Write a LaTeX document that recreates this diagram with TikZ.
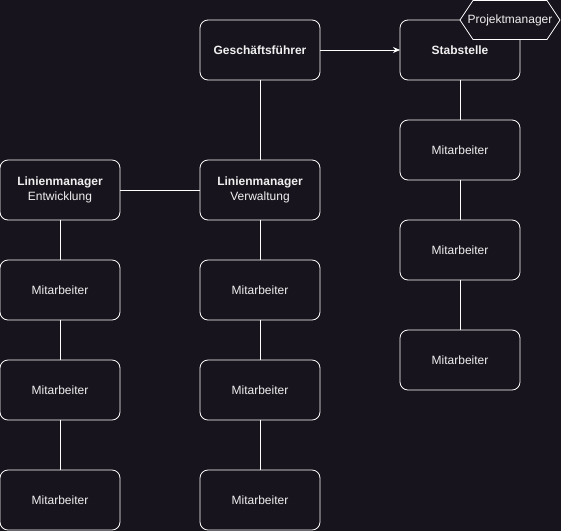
\documentclass[tikz,border=0pt]{standalone}
\usepackage{fontspec}
\setmainfont{Liberation Sans}
\usepackage{xcolor}
\usetikzlibrary{arrows.meta,positioning}
\definecolor{bg}{HTML}{18141D}
\definecolor{fg}{HTML}{F0F0F0}

\begin{document}
\begin{tikzpicture}[
  x=1pt, y=-1pt,
  node distance=40pt and 80pt,
  every node/.style={font=\fontsize{12}{15}\selectfont, text=fg},
  box/.style={draw=white, rounded corners=8pt, line width=0.8pt, outer sep=0pt,
              minimum width=120pt, minimum height=60pt, align=center, inner sep=2pt},
  hexa/.style={draw=white, fill=bg, line width=0.8pt},
  link/.style={draw=white, line width=0.8pt},
  arr/.style={link, -{Stealth[length=7pt,width=6pt]}},
]
  \fill[bg] (0,0) rectangle (561,531);
  \useasboundingbox (0,0) rectangle (561,531);

  \node[box] (gf) at (260,50) {\textbf{Geschäftsführer}};
  \node[box, right=of gf] (stab) {\textbf{Stabstelle}};
  \node[box, below=80pt of gf] (lmv) {\textbf{Linienmanager}\\Verwaltung};
  \node[box, left=of lmv] (lme) {\textbf{Linienmanager}\\Entwicklung};

  % Entwicklung
  \node[box, below=of lme] (e1) {Mitarbeiter};
  \node[box, below=of e1] (e2) {Mitarbeiter};
  \node[box, below=50pt of e2] (e3) {Mitarbeiter};

  % Verwaltung
  \node[box, below=of lmv] (v1) {Mitarbeiter};
  \node[box, below=of v1] (v2) {Mitarbeiter};
  \node[box, below=50pt of v2] (v3) {Mitarbeiter};

  % Stabstelle
  \node[box, below=of stab] (s1) {Mitarbeiter};
  \node[box, below=of s1] (s2) {Mitarbeiter};
  \node[box, below=50pt of s2] (s3) {Mitarbeiter};

  \draw[arr] (gf) -- (stab);
  \draw[link] (gf) -- (lmv);
  \draw[link] (lme) -- (lmv);
  \draw[link] (lme) -- (e1) (e1) -- (e2) (e2) -- (e3);
  \draw[link] (lmv) -- (v1) (v1) -- (v2) (v2) -- (v3);
  \draw[link] (stab) -- (s1) (s1) -- (s2) (s2) -- (s3);

  % Projektmanager hexagon
  \filldraw[hexa] (460,20) -- (473,0.5) -- (547,0.5) -- (560,20) -- (547,39.5) -- (473,39.5) -- cycle;
  \node (pm) at (510,20) {Projektmanager};
\end{tikzpicture}
\end{document}
